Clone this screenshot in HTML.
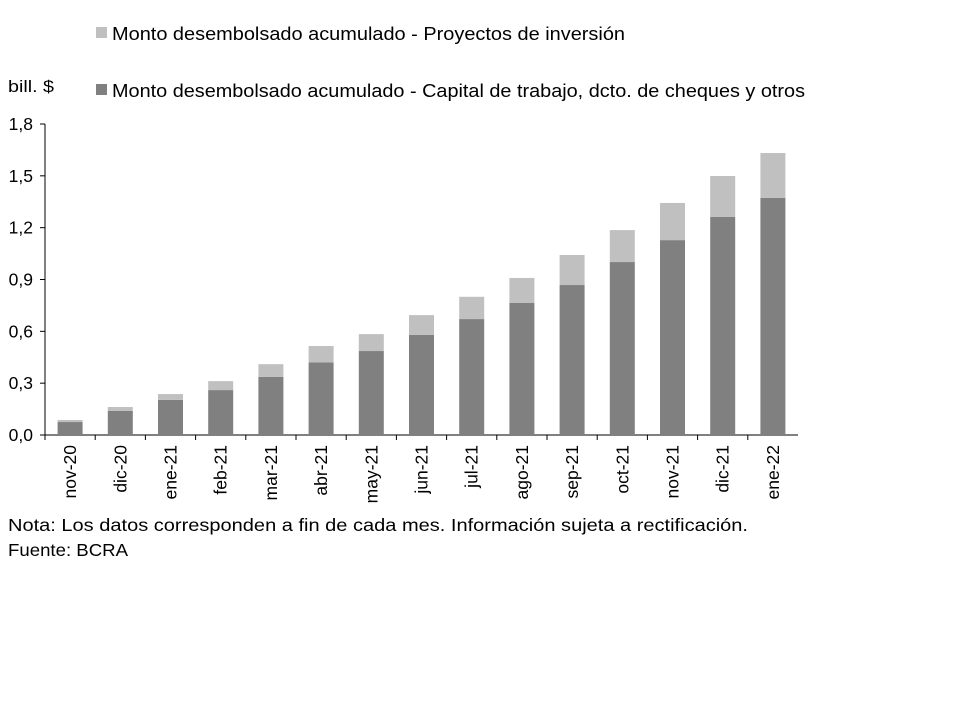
<!DOCTYPE html>
<html><head><meta charset="utf-8"><style>
body{margin:0;background:#fff;width:960px;height:720px;overflow:hidden;font-family:"Liberation Sans",sans-serif;}
</style></head><body>
<svg id="chart" width="960" height="720" xmlns="http://www.w3.org/2000/svg" font-family="Liberation Sans, sans-serif" fill="#000">
<g>
<rect x="96" y="27" width="11" height="11" fill="#c0c0c0"/>
<text x="112" y="40" font-size="18" textLength="513" lengthAdjust="spacingAndGlyphs">Monto desembolsado acumulado - Proyectos de inversión</text>
<rect x="96" y="84" width="11" height="11" fill="#808080"/>
<text x="112" y="97" font-size="18" textLength="693" lengthAdjust="spacingAndGlyphs">Monto desembolsado acumulado - Capital de trabajo, dcto. de cheques y otros</text>
</g>
<text x="8" y="92" font-size="17" textLength="46" lengthAdjust="spacingAndGlyphs">bill. $</text>
<g id="axes"></g>
<g id="bars"></g>
<text x="8" y="531" font-size="17.5" textLength="740" lengthAdjust="spacingAndGlyphs">Nota: Los datos corresponden a fin de cada mes. Información sujeta a rectificación.</text>
<text x="8" y="556" font-size="17.5" textLength="120" lengthAdjust="spacingAndGlyphs">Fuente: BCRA</text>
</svg>
<script>
const categories=["nov-20","dic-20","ene-21","feb-21","mar-21","abr-21","may-21","jun-21","jul-21","ago-21","sep-21","oct-21","nov-21","dic-21","ene-22"];
const capital=[0.075,0.139,0.203,0.26,0.336,0.42,0.486,0.579,0.671,0.764,0.868,1.001,1.128,1.262,1.372];
const proyectos=[0.012,0.023,0.034,0.052,0.074,0.095,0.098,0.115,0.129,0.145,0.174,0.185,0.215,0.237,0.26];
const yTicks=[0,0.3,0.6,0.9,1.2,1.5,1.8];
const yTickLabels=["0,0","0,3","0,6","0,9","1,2","1,5","1,8"];
const NS="http://www.w3.org/2000/svg";
const x0=45,x1=798,yBase=435,yTop=124,yMax=1.8;
const y=v=>yBase-(v/yMax)*(yBase-yTop);
const step=(x1-x0)/categories.length;
const xc=i=>x0+step*(i+0.5);
const bw=25;
function mk(t,a,p){const e=document.createElementNS(NS,t);for(const k in a)e.setAttribute(k,a[k]);p.appendChild(e);return e;}
const ax=document.getElementById('axes'),bg=document.getElementById('bars');
const yl=mk('line',{x1:x0,x2:x0,y1:yTop,y2:yBase,stroke:'#000','stroke-width':1},ax);


yTicks.forEach((v,i)=>{
 const tk=mk('line',{x1:x0-5,x2:x0,y1:y(v),y2:y(v),stroke:'#000'},ax);
 
 
 const t=mk('text',{x:x0-12,y:y(v)+6,'font-size':17.5,'text-anchor':'end'},ax);
 t.textContent=yTickLabels[i];
 
 
});
categories.forEach((c,i)=>{
 const cx=xc(i);
 const r1=mk('rect',{x:cx-bw/2,y:y(capital[i]),width:bw,height:yBase-y(capital[i]),fill:'#808080'},bg);
 
 
 const tot=capital[i]+proyectos[i];
 const r2=mk('rect',{x:cx-bw/2,y:y(tot),width:bw,height:y(capital[i])-y(tot),fill:'#c0c0c0'},bg);
 
 
 const tk=mk('line',{x1:x0+step*i,x2:x0+step*i,y1:yBase,y2:yBase+5,stroke:'#000'},ax);
 
 
 const t=mk('text',{x:0,y:0,'font-size':17.5,'text-anchor':'end',transform:`translate(${cx+6},${yBase+10}) rotate(-90)`},ax);
 t.textContent=c;
 
 
});
const xl=mk('line',{x1:x0,x2:x1,y1:yBase,y2:yBase,stroke:'#000'},ax);


</script>
</body></html>
